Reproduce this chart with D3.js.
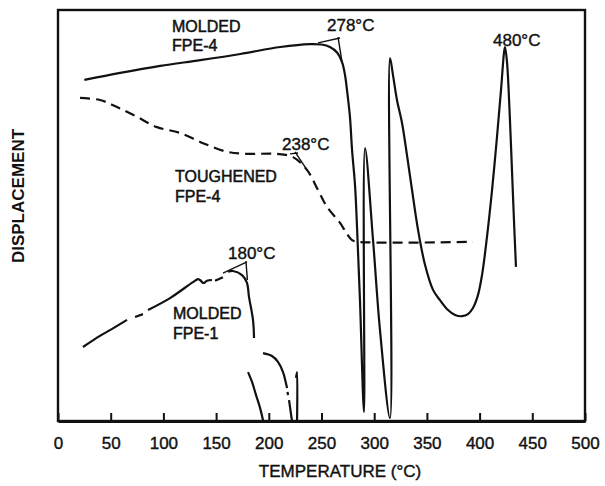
<!DOCTYPE html>
<html>
<head>
<meta charset="utf-8">
<script src="https://cdn.jsdelivr.net/npm/d3@7"></script>
<style>
  body { margin: 0; background: #fff; }
  text { font-family: "Liberation Sans", Arial, sans-serif; fill: #111; }
</style>
</head>
<body>
<div id="chart"></div>
<script>

// x axis ticks (temperature, C)
var xTicks = [0, 50, 100, 150, 200, 250, 300, 350, 400, 450, 500];

// molded FPE-4 trace (solid)
var molded4Temp = [25, 59, 97, 135, 173, 211, 239, 250, 258, 265, 269.5, 272.3, 274.2, 277, 279, 281.8, 283.7, 286.5, 290.3,
  291.3, 298.9, 305.5, 315, 315, 317.8, 321.6, 326.4, 331.1, 335.9, 341.6, 348.2, 355.8, 362.4, 370, 376.7, 383.3, 389,
  393.7, 398.5, 402.3, 407, 411.8, 416.5, 420.3, 424.1, 426, 428.8, 430.7, 432.6, 434.5];
var molded4Disp = [83.0, 84.7, 86.4, 87.8, 89.3, 91.0, 91.7, 91.6, 91.0, 89.6, 87.3, 84.2, 80.5, 74.0, 65.9, 57.4, 47.2, 29.4, 2.2,
  66.4, 44.0, 22.1, 0.7, 88.3, 84.2, 78.1, 72.5, 64.7, 56.2, 46.5, 38.0, 31.9, 29.4, 27.0, 25.8, 25.5, 26.0,
  27.5, 30.7, 35.5, 44.8, 56.2, 69.1, 80.5, 91.0, 87.3, 73.2, 61.1, 48.9, 37.5];

// toughened FPE-4 trace (dashed)
var tough4Temp = [20.9, 39.8, 56.0, 75.0, 93.9, 115.7, 137.6, 160.3, 179.3, 207.8, 223.0, 236.2, 246.7, 255.2, 267.6, 274.2, 279.0, 284.6, 393.7];
var tough4Disp = [78.6, 78.1, 76.4, 74.0, 71.5, 70.1, 67.6, 65.5, 65.0, 65.0, 64.2, 61.1, 56.2, 52.1, 48.2, 45.5, 44.0, 43.6, 43.6];

// molded FPE-1 trace (broken pen line, null = gap)
var molded1Temp = [23.7, 39.8, 49.3, 65.5, null, 73.1, 80.6, null, 85.4, 106.3, 128.1, 132.8, 134.7, 137.6, 138.5, 141.4, 146.1, null,
  149.0, 156.5, null, 161.3, 166.0, 174.6, 179.3, 181.2, 185.0, 186.0];
var molded1Disp = [18.0, 20.7, 22.1, 24.6, null, 25.3, 26.0, null, 27.0, 29.9, 33.8, 34.5, 34.3, 33.6, 33.6, 34.1, 34.3, null,
  34.1, 35.0, null, 36.3, 36.5, 35.5, 33.6, 30.2, 24.6, 20.2];

// molded FPE-1 lower fragments
var tailTemp = [180.3, 184.1, 187.9, 191.7, 194.5, null,
  194.5, 203.0, 208.7, 213.5, 216.3, 217.3, null, 217.8, 218.2, null, 219.2, 222.0, null,
  225.8, 226.8, 226.8];
var tailDisp = [11.9, 9.5, 6.3, 3.2, 0.2, null,
  16.5, 15.8, 14.4, 11.9, 9.2, 8.0, null, 7.1, 6.3, null, 5.1, 0.0, null,
  10.5, 11.9, 0.0];

// onset constructions [t1, d1, t2, d2]
var tangents = [
  [246.7, 92.0, 267.6, 93.2], [265.7, 93.4, 269.5, 87.3],
  [220.1, 65.0, 227.7, 65.2], [224.9, 65.5, 236.2, 61.1],
  [156.5, 36.0, 179.3, 38.7], [178.3, 38.9, 179.7, 34.3]
];

// annotation texts
var annoText = ["278°C", "238°C", "180°C", "480°C"];
var annoTemp = [255.2, 212.5, 161.3, 412.7];
var annoDisp = [94.9, 65.9, 39.4, 91.2];

var curveText = ["MOLDED", "FPE-4", "TOUGHENED", "FPE-4", "MOLDED", "FPE-1"];
var curveTemp = [108.2, 108.2, 111.0, 111.0, 109.1, 109.1];
var curveDisp = [94.6, 90.0, 58.2, 53.3, 24.8, 20.0];

var W = 605, H = 486;
var margin = {top: 10, right: 20, bottom: 65, left: 58},
    width = W - margin.left - margin.right,
    height = H - margin.top - margin.bottom;

var svg = d3.select("#chart")
  .append("svg")
    .attr("width", W)
    .attr("height", H)
  .append("g")
    .attr("transform", "translate(" + margin.left + "," + margin.top + ")");

var x = d3.scaleLinear().domain([0, 500]).range([0, width]);
var y = d3.scaleLinear().domain([0, 100]).range([height, 0]);

// frame
svg.append("rect")
  .attr("x", 0).attr("y", 0)
  .attr("width", width).attr("height", height)
  .style("fill", "none")
  .style("stroke", "#111")
  .style("stroke-width", 2.4);

// bottom axis, ticks pointing inward
var xAxis = svg.append("g")
  .attr("transform", "translate(0," + height + ")")
  .call(d3.axisBottom(x).tickValues(xTicks).tickSizeInner(-8).tickSizeOuter(0).tickPadding(16));
xAxis.select(".domain").style("stroke", "#111").style("stroke-width", 3);
xAxis.selectAll(".tick line").style("stroke", "#111").style("stroke-width", 2);
xAxis.selectAll(".tick text")
  .style("font-size", "17px")
  .style("fill", "#111")
  .style("stroke", "#111").style("stroke-width", 0.4)
  .attr("font-family", null);

// axis titles
svg.append("text")
  .attr("x", 282)
  .attr("y", height + 56)
  .style("text-anchor", "middle")
  .style("font-size", "17px")
  .style("stroke", "#111").style("stroke-width", 0.4)
  .text("TEMPERATURE (°C)");

svg.append("text")
  .attr("transform", "rotate(-90)")
  .attr("x", -186)
  .attr("y", -34)
  .style("text-anchor", "middle")
  .style("font-size", "17px")
  .style("font-weight", "bold")
  .text("DISPLACEMENT");

function makeLine() {
  return d3.line()
    .defined(function(d) { return d[0] != null; })
    .x(function(d) { return x(d[0]); })
    .y(function(d) { return y(d[1]); })
    .curve(d3.curveCatmullRom.alpha(0.5));
}
function zipped(a, b) { return a.map(function(v, i) { return [v, b[i]]; }); }

svg.append("path")
  .datum(zipped(molded4Temp, molded4Disp))
  .attr("d", makeLine())
  .style("fill", "none").style("stroke", "#111").style("stroke-width", 2.2)
  .style("stroke-linejoin", "round");

svg.append("path")
  .datum(zipped(tough4Temp, tough4Disp))
  .attr("d", makeLine())
  .style("fill", "none").style("stroke", "#111").style("stroke-width", 2.2)
  .style("stroke-dasharray", "10,6");

svg.append("path")
  .datum(zipped(molded1Temp, molded1Disp))
  .attr("d", makeLine())
  .style("fill", "none").style("stroke", "#111").style("stroke-width", 2.2);

svg.append("path")
  .datum(zipped(tailTemp, tailDisp))
  .attr("d", makeLine())
  .style("fill", "none").style("stroke", "#111").style("stroke-width", 2.2);

// tangent constructions
svg.selectAll(".tangent")
  .data(tangents)
  .enter().append("line")
    .attr("x1", function(d) { return x(d[0]); })
    .attr("y1", function(d) { return y(d[1]); })
    .attr("x2", function(d) { return x(d[2]); })
    .attr("y2", function(d) { return y(d[3]); })
    .style("stroke", "#111").style("stroke-width", 1.4);

// temperature notes
svg.selectAll(".anno")
  .data(annoText)
  .enter().append("text")
    .attr("x", function(d, i) { return x(annoTemp[i]); })
    .attr("y", function(d, i) { return y(annoDisp[i]); })
    .style("font-size", "17px")
    .style("stroke", "#111").style("stroke-width", 0.4)
    .text(function(d) { return d; });

// curve names
svg.selectAll(".cname")
  .data(curveText)
  .enter().append("text")
    .attr("x", function(d, i) { return x(curveTemp[i]); })
    .attr("y", function(d, i) { return y(curveDisp[i]); })
    .style("font-size", "16px")
    .style("stroke", "#111").style("stroke-width", 0.5)
    .text(function(d) { return d; });

</script>
</body>
</html>
